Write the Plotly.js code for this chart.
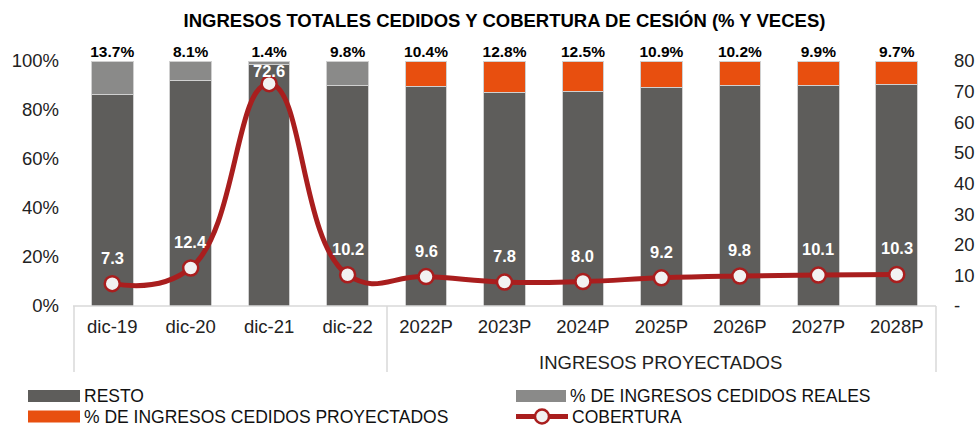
<!DOCTYPE html>
<html><head><meta charset="utf-8">
<script src="https://cdn.plot.ly/plotly-3.0.1.min.js"></script>
<style>html,body{margin:0;padding:0;background:#fff;}#chart{width:976px;height:427px;}</style>
</head><body><div id="chart"></div>
<script>
const categories = ['dic-19','dic-20','dic-21','dic-22','2022P','2023P','2024P','2025P','2026P','2027P','2028P'];
const cededReal = [13.7, 8.1, 1.4, 9.8, null, null, null, null, null, null, null];
const cededProj = [null, null, null, null, 10.4, 12.8, 12.5, 10.9, 10.2, 9.9, 9.7];
const ceded = [13.7, 8.1, 1.4, 9.8, 10.4, 12.8, 12.5, 10.9, 10.2, 9.9, 9.7];
const resto = ceded.map(v => +(100 - v).toFixed(1));
const cobertura = [7.3, 12.4, 72.6, 10.2, 9.6, 7.8, 8.0, 9.2, 9.8, 10.1, 10.3];
const leftTicks = [0, 20, 40, 60, 80, 100];
const rightTicks = [0, 10, 20, 30, 40, 50, 60, 70, 80];
const groupLabel = 'INGRESOS PROYECTADOS';

const W = 976, H = 427, L = 73, R = 936, T = 61, B = 306;
const px = x => (x - L) / (R - L);
const py = y => (B - y) / (B - T);
const FONT = 'Liberation Sans, Arial, sans-serif';
const RED = '#a91e1e';
const FS = 18.5;

const traces = [
  {type:'bar', x:categories, y:resto, name:'RESTO', marker:{color:'#5e5d5b', line:{color:'#d0d0d0', width:1}}, hoverinfo:'skip'},
  {type:'bar', x:categories, y:cededReal, name:'% DE INGRESOS CEDIDOS REALES', marker:{color:'#8a8a89', line:{color:'#d0d0d0', width:1}}, hoverinfo:'skip'},
  {type:'bar', x:categories, y:cededProj, name:'% DE INGRESOS CEDIDOS PROYECTADOS', marker:{color:'#e84f0f', line:{color:'#d0d0d0', width:1}}, hoverinfo:'skip'},
  {type:'scatter', mode:'text', x:categories, y:categories.map(() => 100), text:ceded.map(v => v.toFixed(1) + '%'),
   textposition:'top center', textfont:{family:FONT, size:15.5, color:'#000', weight:'bold'}, cliponaxis:false, hoverinfo:'skip', showlegend:false},
  {type:'scatter', mode:'lines+markers', x:categories, y:cobertura, yaxis:'y2', name:'COBERTURA',
   line:{color:RED, width:5, shape:'spline', smoothing:1.3},
   marker:{size:15, color:'#f2f2f2', line:{color:RED, width:2.5}}, cliponaxis:false, hoverinfo:'skip'}
];

const annotations = cobertura.map((v, i) => ({
  x: categories[i], y: v, xref:'x', yref:'y2', text: v.toFixed(1), showarrow:false,
  yshift: v > 70 ? 13 : 26, font:{family:FONT, size:16.5, color:'#ffffff', weight:'bold'}
}));
annotations.push({x: px(660), y: py(362), xref:'paper', yref:'paper', xanchor:'center', yanchor:'middle', text: groupLabel, showarrow:false,
  font:{family:FONT, size:FS, color:'#222'}});

// legend (manual)
const legendItems = [
  {x0:28, x1:80, y:396, tx:82, text:'RESTO', color:'#5e5d5b', kind:'bar'},
  {x0:516, x1:566, y:396, tx:568, text:'% DE INGRESOS CEDIDOS REALES', color:'#8a8a89', kind:'bar'},
  {x0:28, x1:80, y:416.5, tx:82, text:'% DE INGRESOS CEDIDOS PROYECTADOS', color:'#e84f0f', kind:'bar'},
  {x0:516, x1:568, y:416.5, tx:570, text:'COBERTURA', color:RED, kind:'line'}
];
const shapes = [
  {type:'line', xref:'paper', yref:'paper', x0:0, x1:1, y0:0, y1:0, line:{color:'#d9d9d9', width:1.5}},
  {type:'line', xref:'paper', yref:'paper', x0:px(74), x1:px(74), y0:0, y1:py(372), line:{color:'#d9d9d9', width:1.5}},
  {type:'line', xref:'paper', yref:'paper', x0:px(387), x1:px(387), y0:0, y1:py(372), line:{color:'#d9d9d9', width:1.5}},
  {type:'line', xref:'paper', yref:'paper', x0:px(936), x1:px(936), y0:0, y1:py(372), line:{color:'#d9d9d9', width:1.5}}
];
legendItems.forEach(it => {
  if (it.kind === 'bar') {
    shapes.push({type:'rect', xref:'paper', yref:'paper', x0:px(it.x0), x1:px(it.x1), y0:py(it.y+6), y1:py(it.y-6),
      fillcolor:it.color, line:{width:0}});
  } else {
    shapes.push({type:'line', xref:'paper', yref:'paper', x0:px(it.x0), x1:px(it.x1), y0:py(it.y), y1:py(it.y),
      line:{color:it.color, width:5}});
    const cx = (it.x0 + it.x1) / 2;
    shapes.push({type:'circle', xref:'paper', yref:'paper', x0:px(cx-7), x1:px(cx+7), y0:py(it.y+7), y1:py(it.y-7),
      fillcolor:'#f2f2f2', line:{color:it.color, width:2.5}});
  }
  annotations.push({x:px(it.tx), y:py(it.y), xref:'paper', yref:'paper', xanchor:'left', yanchor:'middle',
    text:it.text, showarrow:false, font:{family:FONT, size:17.5, color:'#111'}});
});

const layout = {
  width:W, height:H, margin:{l:L, r:W-R, t:T, b:H-B},
  paper_bgcolor:'#fff', plot_bgcolor:'#fff',
  barmode:'stack', bargap:0.47, showlegend:false,
  font:{family:FONT, size:FS, color:'#222'},
  title:{text:'INGRESOS TOTALES CEDIDOS Y COBERTURA DE CESIÓN (% Y VECES)', x:0.5, xref:'paper', y:0.953, yanchor:'middle',
    font:{family:FONT, size:18.5, color:'#000', weight:'bold'}},
  xaxis:{type:'category', range:[-0.5, 10.5], showgrid:false, showline:false, ticks:'', zeroline:false,
    tickfont:{family:FONT, size:FS, color:'#222'}, ticklabelstandoff:7},
  yaxis:{range:[0, 100], tickvals:leftTicks, ticktext:leftTicks.map(v => v + '%'), showgrid:false, zeroline:false,
    showline:false, tickfont:{family:FONT, size:FS, color:'#222'}, ticklabelstandoff:13},
  yaxis2:{range:[0, 80], overlaying:'y', side:'right', tickvals:rightTicks, ticktext:rightTicks.map(v => v === 0 ? '-' : String(v)),
    showgrid:false, zeroline:false, showline:false, tickfont:{family:FONT, size:FS, color:'#222'}, ticklabelstandoff:17},
  shapes, annotations
};
Plotly.newPlot('chart', traces, layout, {staticPlot:true, displayModeBar:false});
</script></body></html>
